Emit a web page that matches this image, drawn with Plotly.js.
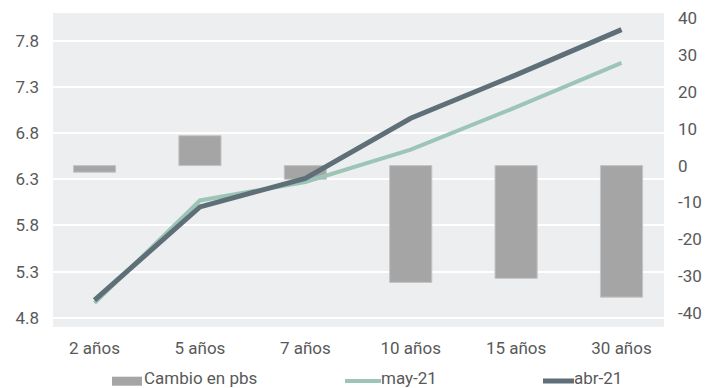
<!DOCTYPE html>
<html>
<head>
<meta charset="utf-8">
<script src="https://cdn.plot.ly/plotly-3.0.1.min.js"></script>
<style>
  html, body { margin: 0; padding: 0; background: #ffffff; }
  #chart { width: 717px; height: 388px; }
</style>
</head>
<body>
<div id="chart"></div>
<script>
// Plazos de la curva
const plazos = ['2 años', '5 años', '7 años', '10 años', '15 años', '30 años'];

// Rendimientos (%)
const may21 = [4.96, 6.07, 6.27, 6.62, 7.08, 7.56];
const abr21 = [4.99, 6.00, 6.31, 6.96, 7.43, 7.92];

// Cambio mensual en puntos base
const cambioPbs = [-1.8, 8.1, -3.7, -31.7, -30.6, -35.7];

// Nombres de las series
const nombreBarras = 'Cambio en pbs';
const nombreMay = 'may-21';
const nombreAbr = 'abr-21';

// Ticks de los ejes
const ticksIzq = [4.8, 5.3, 5.8, 6.3, 6.8, 7.3, 7.8];
const ticksDer = [-40, -30, -20, -10, 0, 10, 20, 30, 40];

const W = 717, H = 388;
const M = { l: 53, r: 53, t: 13, b: 61 };
const pw = W - M.l - M.r, ph = H - M.t - M.b;
const px = v => (v - M.l) / pw;          // píxel -> paper x
const py = v => (H - M.b - v) / ph;      // píxel -> paper y

const colBar = '#a5a5a5';
const colMay = '#9dc5b7';
const colAbr = '#5f6f78';
const colTxt = '#595959';
const fuente = 'Roboto, "Open Sans", sans-serif';
const tam = 17;

const traces = [
  {
    type: 'bar', name: nombreBarras, x: plazos, y: cambioPbs,
    xaxis: 'x', yaxis: 'y', width: 0.4,
    marker: { color: colBar, line: { color: '#c4c4c4', width: 1 } },
    hoverinfo: 'skip', showlegend: false
  },
  {
    type: 'scatter', mode: 'lines', name: nombreMay, x: plazos, y: may21,
    xaxis: 'x', yaxis: 'y2',
    line: { color: colMay, width: 4 }, showlegend: false
  },
  {
    type: 'scatter', mode: 'lines', name: nombreAbr, x: plazos, y: abr21,
    xaxis: 'x', yaxis: 'y2',
    line: { color: colAbr, width: 5 }, showlegend: false
  }
];

// Leyenda dibujada a mano bajo el eje
const shapes = [
  { type: 'rect', xref: 'paper', yref: 'paper',
    x0: px(112), x1: px(142), y0: py(385.7), y1: py(376.7),
    fillcolor: colBar, line: { width: 0 } },
  { type: 'line', xref: 'paper', yref: 'paper',
    x0: px(345), x1: px(381), y0: py(381), y1: py(381),
    line: { color: colMay, width: 4 } },
  { type: 'line', xref: 'paper', yref: 'paper',
    x0: px(543), x1: px(574), y0: py(381), y1: py(381),
    line: { color: colAbr, width: 5 } }
];

const leyenda = [
  { text: nombreBarras, x: 142 },
  { text: nombreMay, x: 379 },
  { text: nombreAbr, x: 572 }
].map(e => ({
  text: e.text, xref: 'paper', yref: 'paper',
  x: px(e.x), y: py(378.5), xanchor: 'left', yanchor: 'middle',
  showarrow: false, font: { family: fuente, size: tam, color: colTxt }
}));

const layout = {
  width: W, height: H,
  margin: M,
  paper_bgcolor: '#ffffff',
  plot_bgcolor: '#edeef0',
  showlegend: false,
  font: { family: fuente, size: tam, color: colTxt },
  xaxis: {
    type: 'category', range: [-0.394, 5.403],
    showgrid: false, zeroline: false, showline: false, ticks: '',
    ticklabelstandoff: 9,
    tickfont: { family: fuente, size: tam, color: colTxt }
  },
  yaxis: {
    side: 'right', range: [-43.8, 41.4],
    tickvals: ticksDer, ticktext: ticksDer.map(String),
    showgrid: false, zeroline: false, showline: false, ticks: '',
    ticklabelstandoff: 13,
    tickfont: { family: fuente, size: tam, color: colTxt }
  },
  yaxis2: {
    overlaying: 'y', side: 'left', range: [4.7, 8.1],
    tickvals: ticksIzq, ticktext: ticksIzq.map(v => v.toFixed(1)),
    showgrid: true, gridcolor: '#ffffff', gridwidth: 2,
    zeroline: false, showline: false, ticks: '',
    ticklabelstandoff: 13,
    tickfont: { family: fuente, size: tam, color: colTxt }
  },
  shapes: shapes,
  annotations: leyenda
};

Plotly.newPlot('chart', traces, layout, { displayModeBar: false, staticPlot: true });
</script>
</body>
</html>
